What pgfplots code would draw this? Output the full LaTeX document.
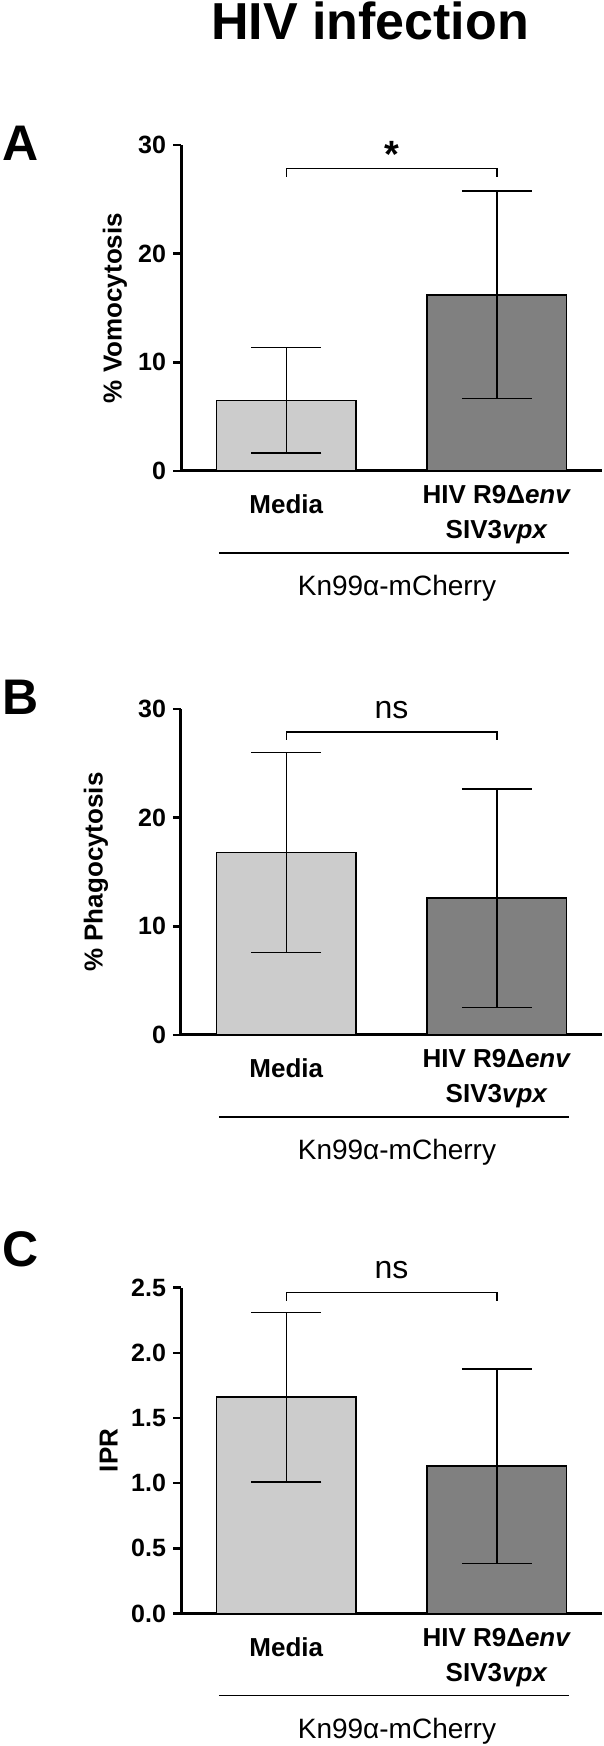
\documentclass[border=0pt]{standalone}
\usepackage{fontspec}
\setmainfont{Liberation Sans}
\usepackage{pgfplots}
\pgfplotsset{compat=1.18}

\definecolor{barlight}{HTML}{CCCCCC}
\definecolor{bardark}{HTML}{808080}

\pgfplotsset{
  panel/.style={
    width=210.5pt, height=163pt, scale only axis,
    anchor=south west, clip=false,
    xmin=0.5, xmax=2.5, ymin=0,
    xtick=\empty,
    axis x line=bottom, axis y line=left,
    axis line style={-, line width=1.5pt},
    tick align=outside, major tick length=4pt,
    ytick style={line width=1.2pt, black},
    /pgf/number format/assume math mode=true,
    yticklabel style={font=\fontsize{12.5pt}{13pt}\selectfont\bfseries},
    ylabel style={font=\fontsize{13pt}{14pt}\selectfont\bfseries, anchor=center},
    ybar, bar width=0.665, bar shift=0pt,
  },
  barA/.style={fill=barlight, draw=black, line width=0.75pt,
    error bars/y dir=both, error bars/y explicit,
    error bars/error bar style={line width=0.75pt, black},
    error bars/error mark options={rotate=90, mark size=17.5pt, line width=0.75pt, black}},
  barB/.style={barA, fill=bardark},
}
\tikzset{
  bracket/.style={line width=0.75pt},
  cat/.style={font=\fontsize{13pt}{14pt}\selectfont\bfseries, anchor=base, inner sep=0pt},
}
\newcommand{\cats}{%
  \node[cat] at ([yshift=-21.25pt]axis cs:1,0) {Media};
  \node[cat] at ([yshift=-16.25pt]axis cs:2,0) {HIV R9Δ\textit{env}};
  \node[cat] at ([yshift=-33.75pt]axis cs:2,0) {SIV3\textit{vpx}};
  \draw[line width=0.75pt] ([yshift=-41pt]axis cs:0.68,0) -- ([yshift=-41pt]axis cs:2.343,0);
  \node[font=\fontsize{14pt}{15pt}\selectfont, anchor=base, inner sep=0pt]
    at ([yshift=-62.5pt]axis cs:1.526,0) {Kn99α-mCherry};
}

\begin{document}
\begin{tikzpicture}
\path[use as bounding box] (0,0) rectangle (302pt,873pt);

\node[font=\fontsize{26pt}{30pt}\selectfont\bfseries, anchor=base, inner sep=0pt] at (185pt,853pt) {HIV infection};

\node[font=\fontsize{25pt}{28pt}\selectfont\bfseries, anchor=base west, inner sep=0pt] at (1pt,792.5pt) {A};
\node[font=\fontsize{25pt}{28pt}\selectfont\bfseries, anchor=base west, inner sep=0pt] at (1pt,515.5pt) {B};
\node[font=\fontsize{25pt}{28pt}\selectfont\bfseries, anchor=base west, inner sep=0pt] at (1pt,239.5pt) {C};

% A: vomocytosis
\begin{axis}[panel, at={(90.5pt,637.5pt)},
  ymax=30, ytick={0,10,20,30},
  ylabel={\% Vomocytosis},
  ylabel style={at={(axis description cs:-0.157,0.5)}}]
\addplot[barA] coordinates {(1,6.5) +- (0,4.85)};
\addplot[barB] coordinates {(2,16.2) +- (0,9.55)};
\draw[bracket] (axis cs:1,27.1) |- (axis cs:2,27.85) -- (axis cs:2,27.1);
\node[font=\fontsize{19pt}{20pt}\selectfont\bfseries, anchor=base, inner sep=0pt] at (axis cs:1.5,27.9) {*};
\cats
\end{axis}

% B: phagocytosis
\begin{axis}[panel, at={(90.5pt,355.5pt)},
  ymax=30, ytick={0,10,20,30},
  ylabel={\% Phagocytosis},
  ylabel style={at={(axis description cs:-0.202,0.5)}}]
\addplot[barA] coordinates {(1,16.8) +- (0,9.2)};
\addplot[barB] coordinates {(2,12.6) +- (0,10.05)};
\draw[bracket] (axis cs:1,27.15) |- (axis cs:2,27.9) -- (axis cs:2,27.15);
\node[font=\fontsize{16pt}{17pt}\selectfont, anchor=base, inner sep=0pt] at (axis cs:1.5,29.17) {ns};
\cats
\end{axis}

% C: IPR
\begin{axis}[panel, at={(90.5pt,66.25pt)},
  ymax=2.5, ytick={0,0.5,1,1.5,2,2.5},
  yticklabel style={/pgf/number format/.cd, fixed, fixed zerofill, precision=1},
  ylabel={IPR},
  ylabel style={at={(axis description cs:-0.172,0.5)}}]
\addplot[barA] coordinates {(1,1.66) +- (0,0.65)};
\addplot[barB] coordinates {(2,1.13) +- (0,0.745)};
\draw[bracket] (axis cs:1,2.40) |- (axis cs:2,2.46) -- (axis cs:2,2.40);
\node[font=\fontsize{16pt}{17pt}\selectfont, anchor=base, inner sep=0pt] at (axis cs:1.5,2.569) {ns};
\cats
\end{axis}
\end{tikzpicture}
\end{document}
